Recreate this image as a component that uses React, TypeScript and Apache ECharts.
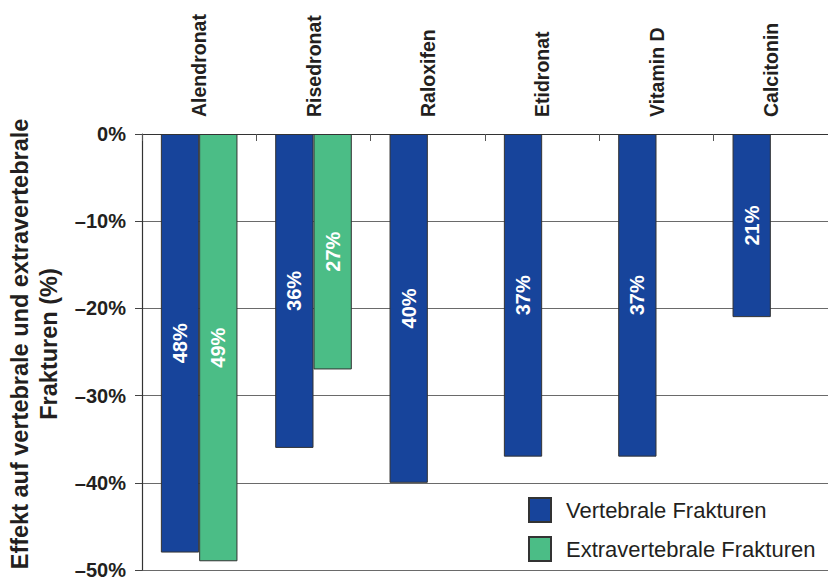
import React, { useEffect, useRef } from "react";
import * as echarts from "echarts";

const categories = ["Alendronat", "Risedronat", "Raloxifen", "Etidronat", "Vitamin D", "Calcitonin"];
const vertebralValues = [-48, -36, -40, -37, -37, -21];
const extravertebralValues: (number | null)[] = [-49, -27, null, null, null, null];
const seriesNames = ["Vertebrale Frakturen", "Extravertebrale Frakturen"];
const yAxisTitle = "Effekt auf vertebrale und extravertebrale\nFrakturen (%)";

const FONT = "'Liberation Sans', Arial, Helvetica, sans-serif";
const BLUE = "#17449b";
const GREEN = "#4bbd86";
const TEXT = "#231f20";

export default function App() {
  const ref = useRef<HTMLDivElement>(null);
  useEffect(() => {
    if (!ref.current) return;
    const chart = echarts.init(ref.current, null, { renderer: "svg" });
    const label = {
      show: true,
      position: "inside",
      rotate: 90,
      color: "#ffffff",
      fontFamily: FONT,
      fontWeight: "bold",
      fontSize: 20,
      formatter: (p: any) => Math.abs(p.value) + "%",
    };
    chart.setOption({
      animation: false,
      textStyle: { fontFamily: FONT },
      grid: { left: 142, top: 134, right: 0, bottom: 7, containLabel: false, outerBoundsMode: "none" },
      legend: {
        orient: "vertical",
        left: 523,
        top: 492,
        itemWidth: 22,
        itemHeight: 24,
        itemGap: 13,
        icon: "rect",
        textStyle: { fontFamily: FONT, fontSize: 22, color: TEXT, padding: [0, 0, 0, 10] },
        data: seriesNames,
      },
      xAxis: {
        type: "category",
        position: "top",
        data: categories,
        axisLine: { show: true, lineStyle: { color: "#333333", width: 1.2 } },
        axisTick: { show: true, inside: true, length: 7, lineStyle: { color: "#555555" } },
        axisLabel: {
          rotate: 90,
          margin: 17,
          color: TEXT,
          fontFamily: FONT,
          fontWeight: "bold",
          fontSize: 19.5,
        },
        splitLine: { show: false },
      },
      yAxis: {
        type: "value",
        min: -50,
        max: 0,
        interval: 10,
        name: yAxisTitle,
        nameLocation: "middle",
        nameRotate: 90,
        nameGap: 76,
        nameTextStyle: {
          fontFamily: FONT,
          fontWeight: "bold",
          fontSize: 23.5,
          color: TEXT,
          lineHeight: 29,
          align: "center",
          padding: [0, 0, 0, 16],
        },
        axisLine: { show: true, lineStyle: { color: "#333333", width: 1.2 } },
        axisTick: { show: true, length: 7, lineStyle: { color: "#444444" } },
        axisLabel: {
          margin: 16,
          color: TEXT,
          fontFamily: FONT,
          fontWeight: "bold",
          fontSize: 20,
          formatter: (v: number) => (v === 0 ? "0%" : "\u2013" + Math.abs(v) + "%"),
        },
        splitLine: { show: true, lineStyle: { color: "#6a6a6a", width: 1 } },
      },
      series: [
        {
          name: seriesNames[0],
          type: "bar",
          data: vertebralValues,
          barWidth: 38.3,
          barGap: "0%",
          itemStyle: { color: BLUE, borderColor: "#333333", borderWidth: 1 },
          label,
        },
        {
          name: seriesNames[1],
          type: "bar",
          data: extravertebralValues,
          barWidth: 38.3,
          barGap: "0%",
          itemStyle: { color: GREEN, borderColor: "#333333", borderWidth: 1 },
          label,
        },
      ],
    });
    return () => chart.dispose();
  }, []);
  return (
    <div
      ref={ref}
      style={{ position: "absolute", left: 0, top: 0, width: 828, height: 577, background: "#ffffff" }}
    />
  );
}
